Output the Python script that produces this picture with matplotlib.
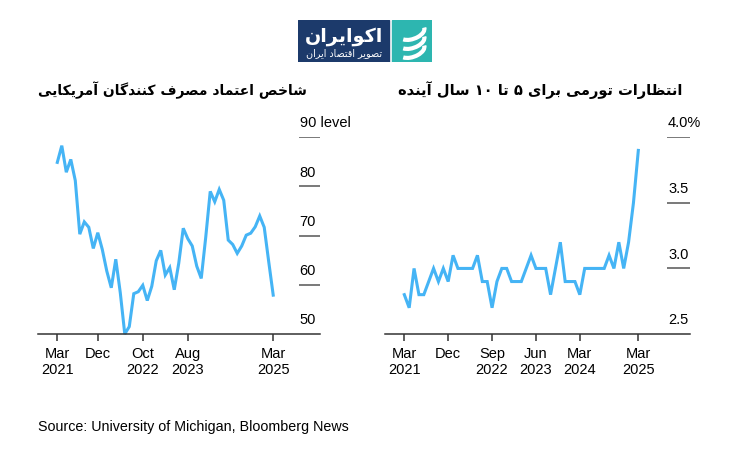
import matplotlib
matplotlib.use('Agg')
import matplotlib.pyplot as plt
from matplotlib.patches import Rectangle, Arc

# monthly index, Mar 2021 = 0 ... Mar 2025 = 48
sentiment = [84.9, 88.3, 82.9, 85.5, 81.2, 70.3, 72.8, 71.7, 67.4, 70.6,
             67.2, 62.8, 59.4, 65.2, 58.4, 50.0, 51.5, 58.2, 58.6, 59.9, 56.8, 59.7,
             64.9, 67.0, 62.0, 63.5, 59.0, 64.4, 71.5, 69.4, 67.9, 63.8, 61.3, 69.7,
             79.0, 76.9, 79.4, 77.2, 69.1, 68.2, 66.4, 67.9, 70.1, 70.5, 71.8, 74.0,
             71.7, 64.7, 57.9]
inflation = [2.8, 2.7, 3.0, 2.8, 2.8, 2.9, 3.0, 2.9, 3.0, 2.9,
             3.1, 3.0, 3.0, 3.0, 3.0, 3.1, 2.9, 2.9, 2.7, 2.9, 3.0, 3.0,
             2.9, 2.9, 2.9, 3.0, 3.1, 3.0, 3.0, 3.0, 2.8, 3.0, 3.2, 2.9,
             2.9, 2.9, 2.8, 3.0, 3.0, 3.0, 3.0, 3.0, 3.1, 3.0, 3.2, 3.0,
             3.2, 3.5, 3.9]
months = list(range(len(sentiment)))

left_xticks = [0, 9, 19, 29, 48]
left_xlabels = ['Mar\n2021', 'Dec', 'Oct\n2022', 'Aug\n2023', 'Mar\n2025']
right_xticks = [0, 9, 18, 27, 36, 48]
right_xlabels = ['Mar\n2021', 'Dec', 'Sep\n2022', 'Jun\n2023', 'Mar\n2024', 'Mar\n2025']
left_yticks = [50, 60, 70, 80, 90]
left_ylabels = ['50', '60', '70', '80', '90 level']
right_yticks = [2.5, 3.0, 3.5, 4.0]
right_ylabels = ['2.5', '3.0', '3.5', '4.0%']

title_left = 'شاخص اعتماد مصرف کنندگان آمریکایی'
title_right = 'انتظارات تورمی برای ۵ تا ۱۰ سال آینده'
brand = 'اکوایران'
brand_sub = 'تصویر اقتصاد ایران'
source = 'Source: University of Michigan, Bloomberg News'

# --- minimal Persian shaping (matplotlib has no complex text layout) ---
_dual = {'ب': 0xFE8F, 'ت': 0xFE95, 'ث': 0xFE99, 'ج': 0xFE9D, 'ح': 0xFEA1, 'خ': 0xFEA5,
         'س': 0xFEB1, 'ش': 0xFEB5, 'ص': 0xFEB9, 'ض': 0xFEBD, 'ط': 0xFEC1, 'ظ': 0xFEC5,
         'ع': 0xFEC9, 'غ': 0xFECD, 'ف': 0xFED1, 'ق': 0xFED5, 'ل': 0xFEDD, 'م': 0xFEE1,
         'ن': 0xFEE5, 'ه': 0xFEE9, 'پ': 0xFB56, 'چ': 0xFB7A, 'ک': 0xFB8E, 'گ': 0xFB92,
         'ی': 0xFBFC}
_right = {'ا': 0xFE8D, 'آ': 0xFE81, 'د': 0xFEA9, 'ذ': 0xFEAB, 'ر': 0xFEAD,
          'ز': 0xFEAF, 'و': 0xFEED, 'ژ': 0xFB8A}


def rtl(text):
    out = []
    for i, ch in enumerate(text):
        if ch not in _dual and ch not in _right:
            out.append(ch)
            continue
        prev = text[i - 1] if i > 0 else ''
        nxt = text[i + 1] if i + 1 < len(text) else ''
        jp = prev in _dual
        jn = ch in _dual and (nxt in _dual or nxt in _right)
        base = _dual.get(ch, _right.get(ch))
        off = 3 if (jp and jn) else 1 if jp else 2 if jn else 0
        out.append(chr(base + off))
    runs = []
    for g in out:
        if g.isdigit() and runs and runs[-1][0].isdigit():
            runs[-1] += g
        else:
            runs.append(g)
    return ''.join(reversed(runs))


plt.rcParams['font.family'] = ['Liberation Sans', 'DejaVu Sans']
blue = '#45b4f5'
dark = '#333333'
W, H = 729, 461

fig = plt.figure(figsize=(W / 100, H / 100), dpi=100)
fig.patch.set_facecolor('white')
renderer = fig.canvas.get_renderer()


def fit(txt, width_px):
    # shrink/grow font so the text spans the same width as in the reference
    w = txt.get_window_extent(renderer).width
    txt.set_fontsize(txt.get_fontsize() * width_px / w)


def panel(rect, y, xticks, xlabels, yticks, ylabels, ylim, xlim):
    ax = fig.add_axes(rect)
    ax.plot(months, y, color=blue, lw=2.2, solid_joinstyle='miter', clip_on=False)
    ax.set_xlim(*xlim)
    ax.set_ylim(*ylim)
    for s in ['top', 'right', 'left']:
        ax.spines[s].set_visible(False)
    ax.spines['bottom'].set_color(dark)
    ax.spines['bottom'].set_linewidth(1.1)
    ax.set_yticks([])
    ax.set_xticks(xticks)
    ax.set_xticklabels(xlabels, fontsize=10.5, linespacing=1.25)
    ax.tick_params(axis='x', length=5, width=1.1, color=dark, pad=4)
    trans = ax.get_yaxis_transform()
    ax.hlines(yticks[1:], 0.925, 1.0, transform=trans, color='#555555', lw=1.1)
    for v, lab in zip(yticks, ylabels):
        ax.annotate(lab, xy=(0.928, v), xycoords=trans, xytext=(0, 10),
                    textcoords='offset points', va='center', ha='left', fontsize=10.5)
    return ax


ax1 = panel([38 / W, 1 - 334 / H, 282 / W, (334 - 137.3) / H], sentiment,
            left_xticks, left_xlabels, left_yticks, left_ylabels,
            (50, 90), (-4.29, 58.4))
ax2 = panel([385 / W, 1 - 334 / H, 305 / W, (334 - 137.3) / H], inflation,
            right_xticks, right_xlabels, right_yticks, right_ylabels,
            (2.5, 4.0), (-3.96, 58.6))

t1 = fig.text(307 / W, 1 - 90 / H, rtl(title_left), family='DejaVu Sans', weight='bold',
              fontsize=11.5, ha='right', va='center')
t2 = fig.text(682 / W, 1 - 90 / H, rtl(title_right), family='DejaVu Sans', weight='bold',
              fontsize=11.5, ha='right', va='center')
fit(t1, 270)
fit(t2, 285)
src = fig.text(38 / W, 1 - 427 / H, source, fontsize=10, ha='left', va='center')
fit(src, 309)

# logo
lg = fig.add_axes([298 / W, 1 - 62 / H, 134 / W, 42 / H])
lg.set_xlim(0, 134)
lg.set_ylim(0, 42)
lg.axis('off')
lg.add_patch(Rectangle((0, 0), 91, 42, color='#1c3a6b'))
lg.add_patch(Rectangle((94, 0), 40, 42, color='#2db6b0'))
for dy in (-9, 0, 9):
    lg.add_patch(Arc((114, 21 + dy), 26, 14, angle=20, theta1=200, theta2=360,
                     color='white', lw=3))
b1 = lg.text(46, 26, rtl(brand), family='DejaVu Sans', weight='bold', fontsize=13,
             color='white', ha='center', va='center')
b2 = lg.text(46, 8.5, rtl(brand_sub), family='DejaVu Sans', fontsize=6.5,
             color='white', ha='center', va='center')
fit(b1, 78)
fit(b2, 76)

fig.savefig('out.png', dpi=100)
